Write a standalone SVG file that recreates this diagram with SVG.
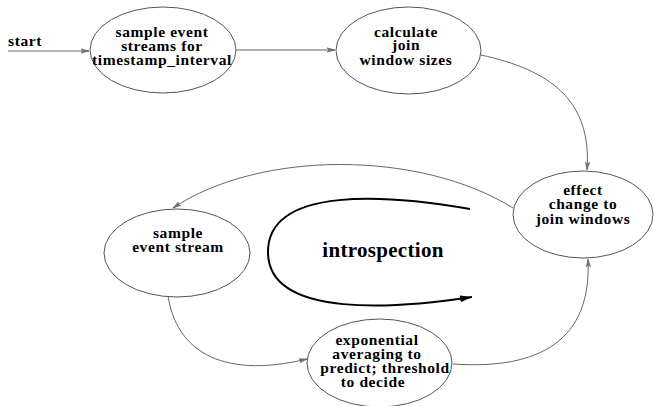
<svg xmlns="http://www.w3.org/2000/svg" width="654" height="406" viewBox="0 0 654 406">
<style>
.node ellipse{fill:#fff;stroke:#555;stroke-width:1}
.lbl{font-family:"Liberation Serif","Times New Roman",serif;font-weight:bold;font-size:15.5px;letter-spacing:0.6px;fill:#000;text-anchor:middle}
.conn{fill:none;stroke:#666;stroke-width:1}
.big{fill:none;stroke:#000;stroke-width:2}
</style>
<defs>
<marker id="ah" viewBox="0 0 8 6" refX="8" refY="3" markerWidth="8" markerHeight="6" markerUnits="userSpaceOnUse" orient="auto">
<path d="M0,0.8 L8,3 L0,5.2 L2,3 Z" fill="#777" stroke="#555" stroke-width="0.5"/>
</marker>
<marker id="bh" viewBox="0 0 12 8" refX="12" refY="4" markerWidth="12" markerHeight="8" markerUnits="userSpaceOnUse" orient="auto">
<path d="M0,0.5 L12,4 L0,7.5 Z" fill="#000"/>
</marker>
</defs>
<rect width="654" height="406" fill="#fff"/>
<g id="connectors">
<path class="conn" d="M8,51 L89,51" marker-end="url(#ah)"/>
<path class="conn" d="M236,50 L335,50" marker-end="url(#ah)"/>
<path class="conn" d="M481,55 C550,70 592,100 587,170" marker-end="url(#ah)"/>
<path class="conn" d="M513,208 C420,150 260,150 173,208" marker-end="url(#ah)"/>
<path class="conn" d="M167,287 C172,350 220,380 307,359" marker-end="url(#ah)"/>
<path class="conn" d="M453,364 C540,370 592,340 588,259" marker-end="url(#ah)"/>
<path class="big" d="M470,209 C390,195 268,185 268,252 C268,320 400,308 472,297" marker-end="url(#bh)"/>
</g>
<text class="lbl" x="8" y="46" style="text-anchor:start">start</text>
<g id="n1" class="node">
<ellipse cx="163" cy="50" rx="73" ry="43"/>
<text class="lbl" x="162" y="37">sample event</text>
<text class="lbl" x="162" y="51">streams for</text>
<text class="lbl" x="162" y="65">timestamp_interval</text>
</g>
<g id="n2" class="node">
<ellipse cx="408.5" cy="50.5" rx="72.5" ry="43.5"/>
<text class="lbl" x="406" y="37">calculate</text>
<text class="lbl" x="406" y="50">join</text>
<text class="lbl" x="406" y="65">window sizes</text>
</g>
<g id="n3" class="node">
<ellipse cx="583" cy="214.5" rx="70" ry="43.5"/>
<text class="lbl" x="583" y="195">effect</text>
<text class="lbl" x="583" y="209">change to</text>
<text class="lbl" x="583" y="224">join windows</text>
</g>
<g id="n4" class="node">
<ellipse cx="177" cy="253" rx="73" ry="44"/>
<text class="lbl" x="178" y="238">sample</text>
<text class="lbl" x="178" y="252">event stream</text>
</g>
<g id="n5" class="node">
<ellipse cx="379.5" cy="363" rx="72.5" ry="44"/>
<text class="lbl" x="377" y="345">exponential</text>
<text class="lbl" x="377" y="359">averaging to</text>
<text class="lbl" x="385" y="373">predict; threshold</text>
<text class="lbl" x="373" y="387">to decide</text>
</g>
<text class="lbl" x="383" y="257" style="font-size:21px;letter-spacing:0.3px">introspection</text>
</svg>
